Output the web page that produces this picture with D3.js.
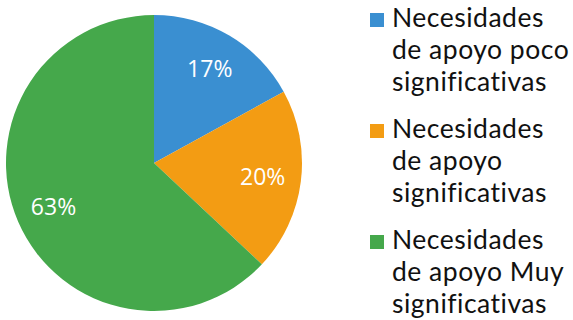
<!DOCTYPE html>
<html>
<head>
<meta charset="utf-8">
<script src="https://cdn.jsdelivr.net/npm/d3@7"></script>
<style>
  html, body { margin: 0; padding: 0; background: #fff; }
  svg { display: block; }
</style>
</head>
<body>
<svg id="chart" width="573" height="320"></svg>
<script>
// Categories, values (percent) and colours of the pie
const categories = [
  ["Necesidades", "de apoyo poco", "significativas"],
  ["Necesidades", "de apoyo", "significativas"],
  ["Necesidades", "de apoyo Muy", "significativas"]
];
const values = [17, 20, 63];
const colors = ["#3a8fd1", "#f39c13", "#45a84b"];

const svg = d3.select("#chart");
const cx = 154, cy = 163, radius = 148;

const pie = d3.pie().sort(null).value(d => d);
const arcs = pie(values);
const arc = d3.arc().innerRadius(0).outerRadius(radius);
const labelArc = d3.arc().innerRadius(radius * 0.74).outerRadius(radius * 0.74);

const g = svg.append("g").attr("transform", `translate(${cx},${cy})`);

g.selectAll("path.slice")
  .data(arcs)
  .enter().append("path")
  .attr("class", "slice")
  .attr("d", arc)
  .attr("fill", (d, i) => colors[i]);

g.selectAll("text.pct")
  .data(arcs)
  .enter().append("text")
  .attr("class", "pct")
  .attr("transform", d => `translate(${labelArc.centroid(d)})`)
  .attr("text-anchor", "middle")
  .attr("dy", "0.38em")
  .attr("fill", "#fff")
  .style("font-family", "'Open Sans', 'Noto Sans', sans-serif")
  .style("font-size", "23px")
  .text(d => d.data + "%");

// Legend
const legend = svg.append("g").attr("transform", "translate(370,27)");
const item = legend.selectAll("g.item")
  .data(categories)
  .enter().append("g")
  .attr("class", "item")
  .attr("transform", (d, i) => `translate(0,${i * 111})`);

item.append("rect")
  .attr("x", 0).attr("y", -14)
  .attr("width", 14).attr("height", 14)
  .attr("fill", (d, i) => colors[i]);

item.append("text")
  .attr("x", 22)
  .attr("fill", "#111")
  .style("font-family", "Lato, 'Noto Sans', sans-serif")
  .style("font-size", "26.5px")
  .style("letter-spacing", "0.5px")
  .style("font-variant-ligatures", "none")
  .selectAll("tspan")
  .data(d => d)
  .enter().append("tspan")
  .attr("x", 22)
  .attr("y", (d, j) => j * 32)
  .text(d => d);
</script>
</body>
</html>
